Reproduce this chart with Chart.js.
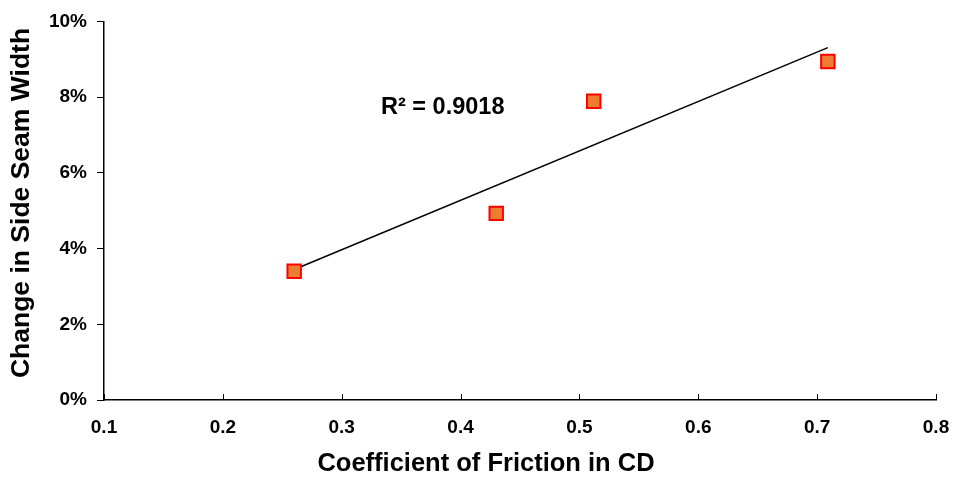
<!DOCTYPE html>
<html>
<head>
<meta charset="utf-8">
<script src="https://cdn.jsdelivr.net/npm/chart.js@4"></script>
<style>
  html, body { margin: 0; padding: 0; background: #fff; }
  #wrap { width: 953px; height: 478px; position: relative; }
</style>
</head>
<body>
<div id="wrap"><canvas id="friction-chart"></canvas></div>
<script>
// values
const frictionCD = [0.26, 0.43, 0.512, 0.709];
const seamChange = [3.40, 4.93, 7.89, 8.94];   // percent
const xTicks = [0.1, 0.2, 0.3, 0.4, 0.5, 0.6, 0.7, 0.8];
const yTicks = [0, 2, 4, 6, 8, 10];
const rSquaredLabel = 'R² = 0.9018';
const xTitle = 'Coefficient of Friction in CD';
const yTitle = 'Change in Side Seam Width';

// least squares line through the points, drawn between first and last x
function linearFit(xs, ys) {
    const n = xs.length;
    const mx = xs.reduce((a, b) => a + b, 0) / n;
    const my = ys.reduce((a, b) => a + b, 0) / n;
    let sxy = 0, sxx = 0;
    for (let i = 0; i < n; i++) {
        sxy += (xs[i] - mx) * (ys[i] - my);
        sxx += (xs[i] - mx) * (xs[i] - mx);
    }
    const slope = sxy / sxx;
    return x => my + slope * (x - mx);
}

const fit = linearFit(frictionCD, seamChange);
const xLo = Math.min(...frictionCD), xHi = Math.max(...frictionCD);
const trendPoints = [{x: xLo, y: fit(xLo)}, {x: xHi, y: fit(xHi)}];
const scatterPoints = frictionCD.map((x, i) => ({x: x, y: seamChange[i]}));

const FONT = 'Liberation Sans, Arial, sans-serif';

// inward x ticks, axis titles (off-centre like the original) and the R² note
const extras = {
    id: 'extras',
    afterDraw(chart) {
        const ctx = chart.ctx;
        const xs = chart.scales.x;
        const area = chart.chartArea;
        ctx.save();
        ctx.strokeStyle = '#000';
        ctx.lineWidth = 1;
        xTicks.forEach(v => {
            const px = Math.round(xs.getPixelForValue(v)) + 0.5;
            ctx.beginPath();
            ctx.moveTo(px, area.bottom);
            ctx.lineTo(px, area.bottom - 6);
            ctx.stroke();
        });
        ctx.fillStyle = '#000';
        ctx.textBaseline = 'middle';

        ctx.font = 'bold 23.5px ' + FONT;
        ctx.textAlign = 'left';
        ctx.fillText(rSquaredLabel, area.left + 277, area.top + 86);

        ctx.font = 'bold 25.5px ' + FONT;
        ctx.textAlign = 'center';
        ctx.fillText(xTitle, 486, 464);

        ctx.font = 'bold 26.5px ' + FONT;
        ctx.translate(22, 203);
        ctx.rotate(-Math.PI / 2);
        ctx.fillText(yTitle, 0, 0);
        ctx.restore();
    }
};

new Chart(document.getElementById('friction-chart').getContext('2d'), {
    data: {
        datasets: [{
            type: 'scatter',
            data: scatterPoints,
            pointStyle: 'rect',
            pointRadius: 9.5,
            pointHoverRadius: 9.5,
            backgroundColor: '#ED7D31',
            borderColor: '#FF0000',
            borderWidth: 2,
            order: 1
        }, {
            type: 'line',
            data: trendPoints,
            borderColor: '#000',
            borderWidth: 1.5,
            pointRadius: 0,
            fill: false,
            order: 2
        }]
    },
    options: {
        responsive: true,
        maintainAspectRatio: false,
        animation: false,
        events: [],
        layout: { padding: { top: 21, right: 0, left: 0, bottom: 0 } },
        plugins: {
            legend: { display: false },
            tooltip: { enabled: false }
        },
        scales: {
            x: {
                type: 'linear',
                min: 0.1,
                max: 0.8,
                afterBuildTicks: s => { s.ticks = xTicks.map(v => ({value: v})); },
                afterFit: s => { s.height = 78; s.paddingRight = 17; s.paddingLeft = 0; },
                grid: { display: false, drawTicks: false },
                border: { display: true, color: '#000', width: 1.5 },
                ticks: {
                    padding: 16,
                    color: '#000',
                    font: { family: FONT, size: 19, weight: 'bold' },
                    callback: v => v.toFixed(1),
                    maxRotation: 0
                },
                title: { display: false }
            },
            y: {
                type: 'linear',
                min: 0,
                max: 10,
                afterBuildTicks: s => { s.ticks = yTicks.map(v => ({value: v})); },
                afterFit: s => { s.width = 104; },
                grid: { display: true, drawOnChartArea: false, drawTicks: true, tickLength: 7, color: '#000' },
                border: { display: true, color: '#000', width: 1.5 },
                ticks: {
                    padding: 10,
                    color: '#000',
                    font: { family: FONT, size: 19, weight: 'bold' },
                    callback: v => v + '%'
                },
                title: { display: false }
            }
        }
    },
    plugins: [extras]
});
</script>
</body>
</html>
